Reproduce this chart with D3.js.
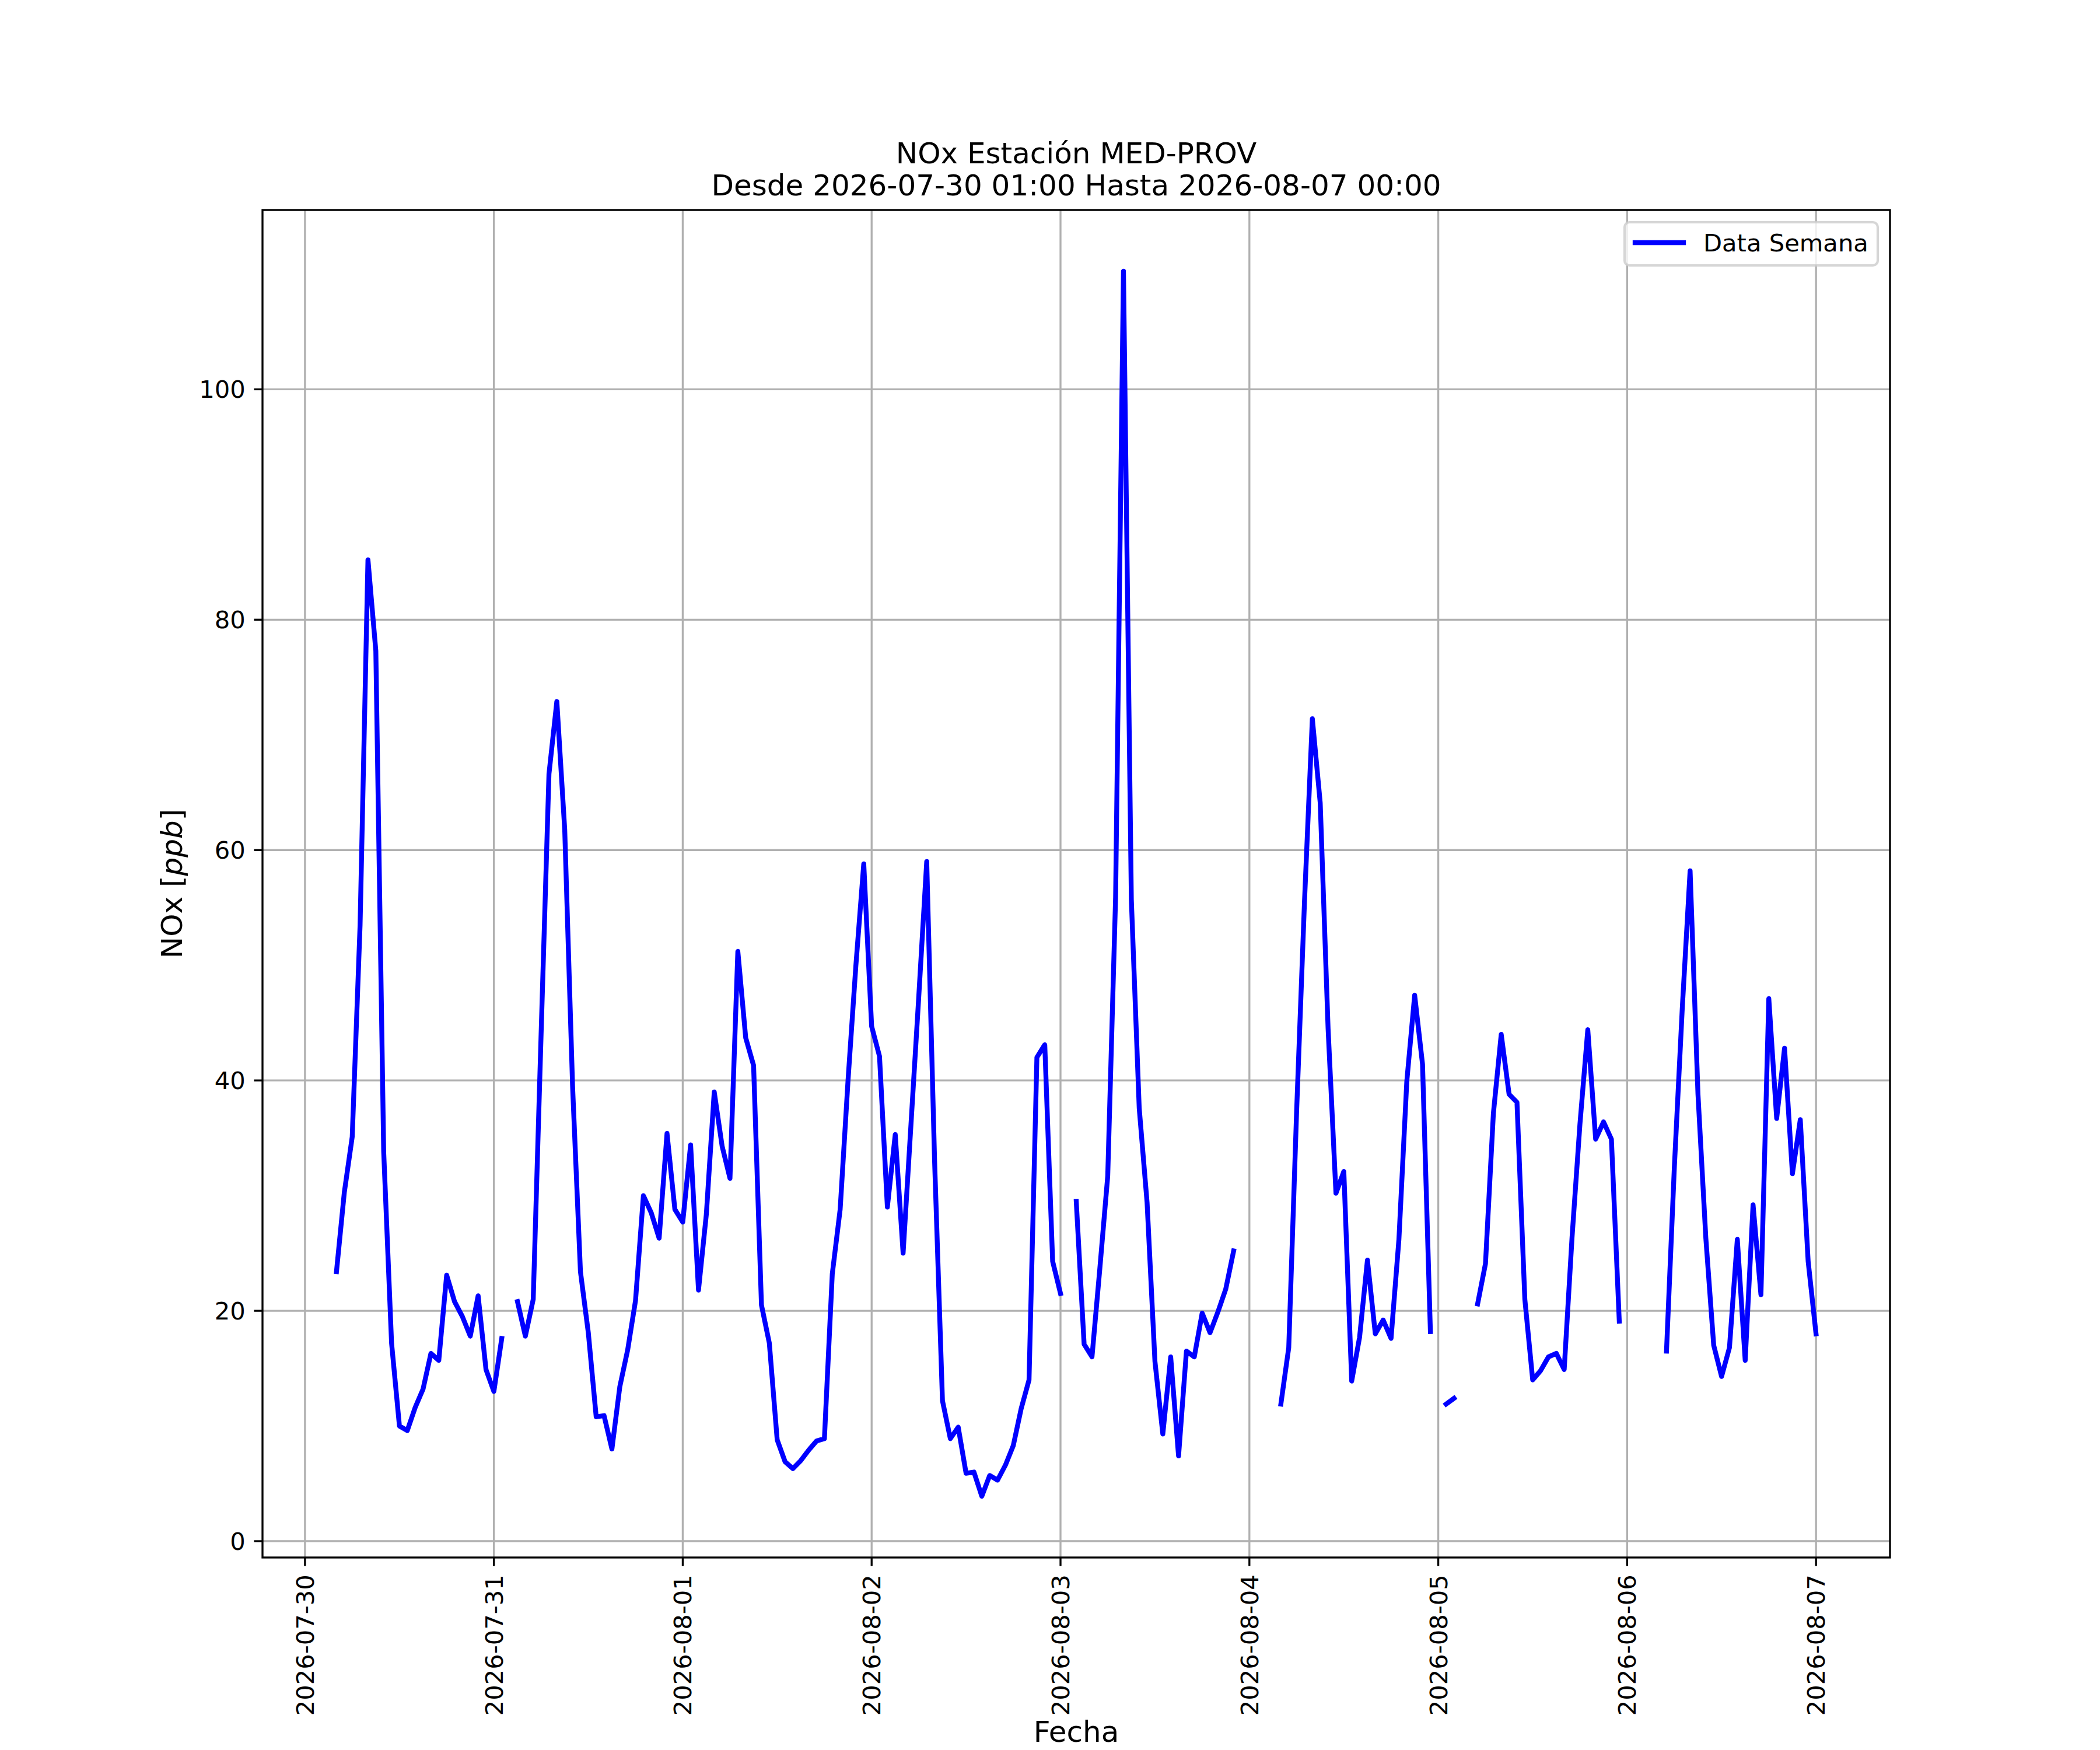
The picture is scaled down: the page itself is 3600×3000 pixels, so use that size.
<!DOCTYPE html>
<html>
<head>
<meta charset="utf-8">
<script src="https://cdn.jsdelivr.net/npm/d3@7"></script>
<style>
  body { margin: 0; background: #fff; }
  svg { display: block; font-family: "DejaVu Sans", sans-serif; }
</style>
</head>
<body>
<svg id="chart" width="3600" height="3000"></svg>
<script>
// hourly NOx [ppb], first value at 2026-07-30 01:00, null = no data
const inicio = "2026-07-30T01:00:00Z";

const dia1 = [null, null, null, 23.4, 30.3, 35.1, 53.5, 85.2, 77.3, 33.8, 17.2, 10.0,
  9.6, 11.6, 13.2, 16.3, 15.7, 23.1, 20.8, 19.5, 17.8, 21.3, 14.9, 13.0];
const dia2 = [17.6, null, 20.8, 17.8, 21.0, 44.0, 66.6, 72.9, 61.8, 39.5, 23.4, 18.1,
  10.8, 10.9, 8.0, 13.4, 16.6, 20.9, 30.0, 28.5, 26.3, 35.4, 28.8, 27.7];
const dia3 = [34.4, 21.8, 28.4, 39.0, 34.3, 31.5, 51.2, 43.7, 41.3, 20.5, 17.2, 8.8,
  6.9, 6.3, 7.0, 7.9, 8.7, 8.9, 23.2, 28.8, 40.0, 50.0, 58.8, 44.7];
const dia4 = [42.1, 29.0, 35.3, 25.0, 36.2, 47.4, 59.0, 33.0, 12.2, 8.9, 9.9, 5.9,
  6.0, 3.9, 5.7, 5.3, 6.6, 8.3, 11.5, 14.0, 42.0, 43.1, 24.3, 21.5];
const dia5 = [null, 29.5, 17.1, 16.0, 23.7, 31.7, 55.9, 110.25, 55.7, 37.6, 29.4, 15.6,
  9.3, 16.0, 7.4, 16.5, 16.0, 19.8, 18.1, 19.9, 21.9, 25.2, null, null];
const dia6 = [null, null, null, 11.9, 16.8, 37.3, 55.5, 71.4, 64.1, 44.5, 30.2, 32.1,
  13.9, 17.7, 24.4, 18.0, 19.2, 17.6, 26.2, 39.9, 47.4, 41.4, 18.2, null];
const dia7 = [11.9, 12.4, null, null, 20.6, 24.1, 37.1, 44.0, 38.8, 38.1, 21.0, 14.0,
  14.8, 16.0, 16.3, 14.9, 26.4, 36.2, 44.4, 34.9, 36.4, 34.9, 19.1, null];
const dia8 = [null, null, null, null, 16.5, 32.5, 46.2, 58.2, 38.8, 26.3, 17.0, 14.3,
  16.8, 26.2, 15.7, 29.2, 21.4, 47.1, 36.7, 42.8, 31.9, 36.6, 24.3, 18.0];

const yTicks = [0, 20, 40, 60, 80, 100];
const titulo = ["NOx Estación MED-PROV", "Desde 2026-07-30 01:00 Hasta 2026-08-07 00:00"];
const serieNombre = "Data Semana";

const valores = [].concat(dia1, dia2, dia3, dia4, dia5, dia6, dia7, dia8);
const t0 = new Date(inicio);
const data = valores.map((v, i) => ({ t: d3.utcHour.offset(t0, i), v: v }));
const validos = data.filter(d => d.v !== null);

// matplotlib look at 300 dpi
const pt = 300 / 72;
const fs = 10 * pt, fsBig = 12 * pt;
const box = { left: 450, right: 3240, top: 360, bottom: 2670 };

const svg = d3.select('#chart');

// 5% margins like matplotlib autoscale
const tExt = d3.extent(validos, d => d.t);
const tPad = (tExt[1] - tExt[0]) * 0.05;
const x = d3.scaleUtc()
  .domain([new Date(+tExt[0] - tPad), new Date(+tExt[1] + tPad)])
  .range([box.left, box.right]);

const vExt = d3.extent(validos, d => d.v);
const vPad = (vExt[1] - vExt[0]) * 0.05;
const y = d3.scaleLinear()
  .domain([vExt[0] - vPad, vExt[1] + vPad])
  .range([box.bottom, box.top]);

const xTicks = d3.utcDay.range(d3.utcDay.ceil(x.domain()[0]), x.domain()[1]);
const fmt = d3.utcFormat('%Y-%m-%d');

svg.append('defs').append('clipPath').attr('id', 'area')
  .append('rect')
  .attr('x', box.left).attr('y', box.top)
  .attr('width', box.right - box.left).attr('height', box.bottom - box.top);

// grid
const grid = svg.append('g').attr('stroke', '#b0b0b0').attr('stroke-width', 0.8 * pt);
grid.selectAll('line.gx').data(xTicks).enter().append('line')
  .attr('x1', d => x(d)).attr('x2', d => x(d))
  .attr('y1', box.top).attr('y2', box.bottom);
grid.selectAll('line.gy').data(yTicks).enter().append('line')
  .attr('x1', box.left).attr('x2', box.right)
  .attr('y1', d => y(d)).attr('y2', d => y(d));

// series
const linea = d3.line()
  .defined(d => d.v !== null)
  .x(d => x(d.t))
  .y(d => y(d.v));

svg.append('path')
  .datum(data)
  .attr('clip-path', 'url(#area)')
  .attr('d', linea)
  .attr('fill', 'none')
  .attr('stroke', '#0000ff')
  .attr('stroke-width', 2 * pt)
  .attr('stroke-linejoin', 'round')
  .attr('stroke-linecap', 'square');

// spines
svg.append('rect')
  .attr('x', box.left).attr('y', box.top)
  .attr('width', box.right - box.left).attr('height', box.bottom - box.top)
  .attr('fill', 'none').attr('stroke', '#000').attr('stroke-width', 0.8 * pt);

// ticks
const tickLen = 3.5 * pt, tickPad = 3.5 * pt;
const ax = svg.append('g');
ax.selectAll('line.tx').data(xTicks).enter().append('line')
  .attr('x1', d => x(d)).attr('x2', d => x(d))
  .attr('y1', box.bottom).attr('y2', box.bottom + tickLen)
  .attr('stroke', '#000').attr('stroke-width', 0.8 * pt);
ax.selectAll('text.tx').data(xTicks).enter().append('text')
  .attr('transform', d => `translate(${x(d)},${box.bottom + tickLen + tickPad}) rotate(-90)`)
  .attr('text-anchor', 'end')
  .attr('dy', '0.36em')
  .attr('font-size', fs)
  .text(d => fmt(d));

ax.selectAll('line.ty').data(yTicks).enter().append('line')
  .attr('x1', box.left - tickLen).attr('x2', box.left)
  .attr('y1', d => y(d)).attr('y2', d => y(d))
  .attr('stroke', '#000').attr('stroke-width', 0.8 * pt);
ax.selectAll('text.ty').data(yTicks).enter().append('text')
  .attr('x', box.left - tickLen - tickPad)
  .attr('y', d => y(d))
  .attr('dy', '0.36em')
  .attr('text-anchor', 'end')
  .attr('font-size', fs)
  .text(d => d);

// axis labels
const cx = (box.left + box.right) / 2;
svg.append('text')
  .attr('x', cx).attr('y', 2986)
  .attr('text-anchor', 'middle')
  .attr('font-size', fsBig)
  .text('Fecha');

const yl = svg.append('text')
  .attr('transform', `translate(312,${(box.top + box.bottom) / 2}) rotate(-90)`)
  .attr('text-anchor', 'middle')
  .attr('font-size', fsBig);
yl.append('tspan').text('NOx [');
yl.append('tspan').attr('font-style', 'italic').text('ppb');
yl.append('tspan').text(']');

// title
svg.selectAll('text.title').data(titulo).enter().append('text')
  .attr('x', cx)
  .attr('y', (d, i) => 280 + i * 55)
  .attr('text-anchor', 'middle')
  .attr('font-size', fsBig)
  .text(d => d);

// legend
const lg = svg.append('g');
lg.append('rect')
  .attr('x', 2785).attr('y', 381)
  .attr('width', 434).attr('height', 74)
  .attr('rx', 0.2 * fs)
  .attr('fill', '#fff').attr('fill-opacity', 0.8)
  .attr('stroke', '#cccccc').attr('stroke-opacity', 0.8)
  .attr('stroke-width', 1 * pt);
lg.append('line')
  .attr('x1', 2803).attr('x2', 2886)
  .attr('y1', 416).attr('y2', 416)
  .attr('stroke', '#0000ff').attr('stroke-width', 2 * pt)
  .attr('stroke-linecap', 'square');
lg.append('text')
  .attr('x', 2920).attr('y', 431)
  .attr('font-size', fs)
  .text(serieNombre);
</script>
</body>
</html>
